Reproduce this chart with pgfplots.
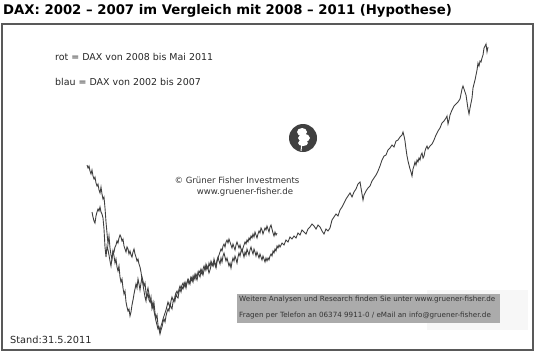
\documentclass[border=0pt]{standalone}
\usepackage{pgfplots}
\pgfplotsset{compat=1.18}
\usepackage{fontspec}
\setmainfont{DejaVu Sans}
\begin{document}
\begin{tikzpicture}[x=1bp,y=1bp]
\path[use as bounding box] (-2,-5) rectangle (536,350);
\begin{axis}[
  at={(0,0)}, anchor=south west,
  scale only axis, width=531bp, height=326bp,
  xmin=2, xmax=533, ymin=24, ymax=350, y dir=reverse,
  axis line style={black!65, line width=1.3pt},
  ticks=none, clip=false,
]
% blau = DAX 2002-2007
\addplot[black!75, line width=0.9pt] coordinates {
(87,165)(88,168)(89,166)(90,171)(91,174)(92,170)(93,176)(94,179)(95,177)(96,183)(97,186)(98,184)(99,190)(100,193)(101,187)(102,194)(103,199)(104,197)(105,208)(106,222)(107,233)(108,244)(109,236)(110,248)(111,255)(112,259)(113,251)(114,256)(115,263)(116,259)(117,267)(118,271)(119,266)(120,277)(121,282)(122,279)(123,288)(124,294)(125,291)(126,302)(127,307)(128,311)(129,309)(130,316)(131,312)(132,305)(133,300)(134,294)(135,289)(136,284)(137,288)(138,279)(139,284)(140,290)(141,283)(142,277)(143,281)(144,286)(145,283)(146,293)(147,297)(148,293)(149,300)(150,302)(151,297)(152,309)(153,306)(154,303)(155,313)(156,318)(157,315)(158,325)(159,329)(160,334)(161,330)(162,327)(163,322)(164,319)(165,322)(166,316)(167,312)(168,309)(169,311)(170,304)(171,307)(172,309)(173,302)(174,299)(175,301)(176,294)(177,297)(178,298)(179,292)(180,289)(181,292)(182,287)(183,289)(184,285)(185,282)(186,286)(187,283)(188,280)(189,284)(190,281)(191,277)(192,279)(193,282)(194,276)(195,279)(196,274)(197,277)(198,272)(199,275)(200,277)(201,271)(202,274)(203,269)(204,266)(205,270)(206,264)(207,267)(208,269)(209,263)(210,266)(211,261)(212,264)(213,266)(214,259)(215,263)(216,266)(217,260)(218,257)(219,261)(220,264)(221,258)(222,262)(223,256)(224,253)(225,257)(226,261)(227,258)(228,262)(229,266)(230,263)(231,268)(232,262)(233,258)(234,261)(235,256)(236,259)(237,263)(238,257)(239,253)(240,256)(241,251)(242,249)(243,253)(244,257)(245,252)(246,255)(247,249)(248,252)(249,255)(250,250)(251,247)(252,251)(253,254)(254,249)(255,252)(256,256)(257,252)(258,255)(259,258)(260,254)(261,257)(262,260)(263,256)(264,259)(265,262)(266,258)(267,261)(268,258)(269,260)(270,256)(271,254)(272,256)(273,251)(274,253)(275,249)(276,251)(277,246)(278,248)(279,245)(280,247)(282,243)(284,245)(286,240)(288,242)(290,237)(292,239)(294,236)(296,238)(298,233)(300,235)(302,230)(304,232)(306,234)(308,229)(310,227)(312,224)(314,226)(316,229)(318,225)(320,227)(322,231)(324,234)(326,229)(328,231)(330,228)(332,220)(334,217)(336,214)(338,216)(340,210)(342,207)(344,203)(346,199)(348,196)(350,193)(352,197)(354,192)(356,189)(358,184)(360,182)(362,194)(363,200)(364,195)(366,191)(368,188)(370,186)(372,181)(374,178)(376,175)(378,171)(380,166)(382,160)(384,156)(386,155)(388,150)(390,148)(392,145)(394,147)(396,141)(398,140)(400,137)(402,135)(403,132)(404,136)(405,141)(406,149)(407,156)(408,161)(409,165)(410,169)(411,172)(412,176)(413,169)(414,166)(415,162)(416,165)(417,160)(418,162)(419,158)(420,160)(421,155)(422,153)(423,158)(424,156)(425,151)(426,148)(427,146)(428,149)(430,146)(432,144)(434,140)(436,135)(438,131)(440,128)(442,123)(444,121)(446,118)(447,116)(448,124)(449,120)(450,115)(452,110)(454,106)(456,104)(458,102)(460,99)(461,94)(462,89)(463,86)(464,89)(465,92)(466,95)(467,102)(468,109)(469,114)(470,108)(471,103)(472,98)(473,88)(474,84)(475,80)(476,75)(477,70)(478,63)(479,66)(480,61)(481,62)(482,58)(483,55)(484,48)(485,46)(486,44)(487,52)(488,47)
};
% rot = DAX 2008-2011
\addplot[black!75, line width=0.9pt] coordinates {
(92,212)(93,217)(94,221)(95,223)(96,216)(97,212)(98,209)(99,211)(100,207)(101,212)(102,214)(103,218)(104,229)(105,247)(106,257)(107,246)(108,250)(109,255)(110,261)(111,266)(112,258)(113,251)(114,252)(115,247)(116,245)(117,241)(118,243)(119,238)(120,235)(121,237)(122,241)(123,239)(124,246)(125,249)(126,252)(127,247)(128,249)(129,254)(130,251)(131,255)(132,257)(133,252)(134,249)(135,254)(136,257)(137,261)(138,259)(139,264)(140,267)(141,272)(142,279)(143,285)(144,291)(145,297)(146,301)(147,292)(148,288)(149,294)(150,299)(151,303)(152,306)(153,302)(154,311)(155,316)(156,321)(157,325)(158,329)(159,327)(160,331)(161,326)(162,323)(163,319)(164,316)(165,313)(166,310)(167,306)(168,302)(169,305)(170,307)(171,301)(172,297)(173,300)(174,302)(175,296)(176,293)(177,291)(178,294)(179,289)(180,286)(181,289)(182,285)(183,283)(184,287)(185,284)(186,288)(187,282)(188,279)(189,281)(190,284)(191,278)(192,281)(193,276)(194,279)(195,274)(196,277)(197,280)(198,275)(199,271)(200,273)(201,269)(202,272)(203,275)(204,270)(205,267)(206,270)(207,266)(208,269)(209,273)(210,270)(211,266)(212,263)(213,266)(214,262)(215,265)(216,268)(217,262)(218,258)(219,255)(220,252)(221,249)(222,251)(223,246)(224,244)(225,247)(226,242)(227,240)(228,243)(229,239)(230,242)(231,245)(232,248)(233,244)(234,247)(235,250)(236,245)(237,242)(238,245)(239,248)(240,245)(241,249)(242,252)(243,248)(244,245)(245,242)(246,244)(247,240)(248,242)(249,238)(250,240)(251,236)(252,238)(253,234)(254,237)(255,232)(256,235)(257,238)(258,234)(259,231)(260,233)(261,228)(262,230)(263,234)(264,231)(265,228)(266,230)(267,226)(268,229)(269,232)(270,227)(271,225)(272,229)(273,233)(274,236)(275,232)(276,235)(277,233)
};
% title
\node[anchor=west, inner sep=0pt, font=\bfseries\fontsize{13.3}{15}\selectfont] at (axis cs:3,11) {DAX: 2002 – 2007 im Vergleich mit 2008 – 2011 (Hypothese)};
% annotations
\node[anchor=west, inner sep=0pt, font=\fontsize{9.5}{11}\selectfont, text=black!85] at (axis cs:55,57) {rot = DAX von 2008 bis Mai 2011};
\node[anchor=west, inner sep=0pt, font=\fontsize{9.5}{11}\selectfont, text=black!85] at (axis cs:55,82) {blau = DAX von 2002 bis 2007};
% logo
\fill[black!75] (axis cs:303,138) circle (14bp);
\fill[white] (axis cs:302,132) ellipse (5bp and 4bp);
\fill[white] (axis cs:304,138) ellipse (6bp and 4bp);
\fill[white] (axis cs:303,143) ellipse (5bp and 3bp);
\draw[white, line width=1pt] (axis cs:302,142) -- (axis cs:301,151);
\node[anchor=center, inner sep=0pt, font=\fontsize{8.6}{10}\selectfont, text=black!80] at (axis cs:237,180) {\textcopyright{} Grüner Fisher Investments};
\node[anchor=center, inner sep=0pt, font=\fontsize{8.6}{10}\selectfont, text=black!80] at (axis cs:245,192) {www.gruener-fisher.de};
% info box
\fill[black!3] (axis cs:427,290) rectangle (axis cs:528,330);
\fill[black!33] (axis cs:237,294) rectangle (axis cs:500,323);
\node[anchor=west, inner sep=0pt, font=\fontsize{7.2}{9}\selectfont, text=black!80] at (axis cs:239,300) {Weitere Analysen und Research finden Sie unter www.gruener-fisher.de};
\node[anchor=west, inner sep=0pt, font=\fontsize{7.2}{9}\selectfont, text=black!80] at (axis cs:239,316) {Fragen per Telefon an 06374 9911-0 / eMail an info@gruener-fisher.de};
\node[anchor=west, inner sep=0pt, font=\fontsize{9.8}{11}\selectfont, text=black!85] at (axis cs:10,340) {Stand:31.5.2011};
\end{axis}
\end{tikzpicture}
\end{document}
